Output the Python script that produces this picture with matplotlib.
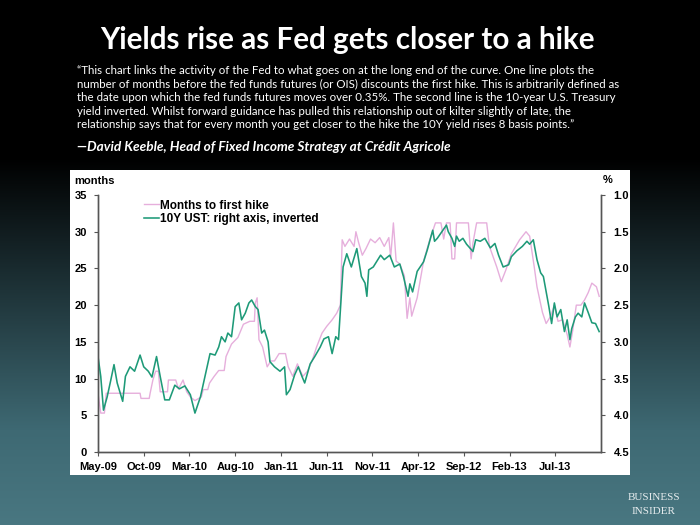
import numpy as np
import matplotlib
matplotlib.use('Agg')
import matplotlib.pyplot as plt
from matplotlib.lines import Line2D

# x = months since May-09
hike_x = [0.0, 0.3, 0.7, 0.9, 4.6, 4.7, 5.6, 5.7, 6.0, 6.3, 6.6, 6.8, 7.6, 7.7, 8.5, 8.8,
          9.3, 9.7, 10.1, 10.6, 11.3, 11.5, 12.0, 12.2, 12.7, 13.2, 13.8, 14.0, 14.6, 15.3,
          15.9, 16.6, 17.1, 17.2, 17.4, 17.6, 18.0, 18.5, 18.9, 19.3, 19.8, 20.5, 20.8, 21.3,
          21.8, 22.4, 22.9, 23.4, 23.9, 24.5, 25.0, 25.6, 26.1, 26.5, 26.7, 27.0, 27.5, 28.0,
          28.2, 28.5, 28.9, 29.3, 29.8, 30.3, 30.8, 31.3, 31.8, 32.0, 32.3, 32.6, 33.0, 33.5,
          33.8, 34.1, 34.3, 34.9, 35.6, 36.3, 36.9, 37.5, 37.8, 38.1, 38.5, 38.7, 39.0, 39.2,
          40.5, 40.8, 41.0, 41.4, 42.5, 42.8, 43.6, 44.1, 44.6, 45.2, 46.1, 46.8, 47.2, 47.7,
          48.0, 48.6, 49.0, 49.5, 49.9, 50.3, 50.8, 51.3, 51.6, 51.9, 52.3, 52.8, 53.2, 53.6,
          54.0, 54.5, 54.8]
hike_months = [8.0, 5.3, 5.3, 8.0, 8.0, 7.3, 7.3, 8.0, 9.8, 11.0, 11.0, 8.2, 8.2, 9.8, 9.8, 8.6,
               9.8, 8.2, 7.5, 7.0, 7.5, 8.5, 8.5, 9.4, 10.3, 11.1, 11.1, 13.0, 14.7, 15.6,
               17.4, 17.8, 17.8, 20.3, 21.0, 15.3, 14.3, 11.6, 12.4, 12.4, 13.4, 13.4, 11.6, 10.3,
               12.0, 10.3, 11.0, 12.4, 14.3, 16.2, 17.1, 18.0, 18.9, 20.0, 28.9, 28.0, 29.0, 28.0,
               30.0, 28.5, 26.8, 27.7, 29.0, 28.5, 29.2, 28.0, 29.2, 26.5, 31.2, 26.0, 25.6, 24.0,
               18.2, 21.0, 18.5, 21.0, 26.0, 29.0, 31.2, 31.2, 29.0, 31.2, 31.2, 26.3, 26.3, 31.2,
               31.2, 26.3, 28.5, 31.2, 31.2, 28.0, 25.2, 23.2, 24.8, 27.0, 28.9, 30.0, 29.4, 25.2,
               22.5, 19.0, 17.5, 18.5, 20.0, 17.8, 18.0, 16.0, 14.3, 16.5, 20.0, 20.0, 20.7, 21.7,
               23.0, 22.5, 21.2]

ust_x = [0.0, 0.3, 0.6, 1.0, 1.4, 1.75, 2.1, 2.7, 3.0, 3.5, 4.0, 4.6, 5.0, 5.5, 5.9, 6.4,
         6.8, 7.3, 7.8, 8.4, 8.9, 9.5, 10.1, 10.6, 11.2, 11.7, 12.25, 12.8, 13.2, 13.5, 13.9,
         14.2, 14.6, 15.0, 15.4, 15.7, 16.1, 16.5, 16.8, 17.2, 17.5, 17.9, 18.2, 18.6, 18.8,
         19.3, 19.9, 20.4, 20.6, 21.0, 21.5, 21.9, 22.3, 22.6, 23.2, 23.7, 24.3, 24.7, 25.2,
         25.6, 26.0, 26.3, 26.5, 26.8, 27.2, 27.7, 28.3, 28.8, 29.2, 29.4, 29.6, 30.1, 30.9,
         31.3, 31.9, 32.4, 33.0, 33.4, 33.9, 34.1, 34.4, 34.9, 35.6, 36.0, 36.6, 36.8, 37.1,
         37.6, 38.1, 38.3, 38.7, 39.0, 39.2, 39.5, 39.9, 40.3, 41.0, 41.3, 41.8, 42.3, 42.9,
         43.4, 43.8, 44.3, 44.9, 45.2, 45.8, 46.4, 46.9, 47.2, 47.6, 48.0, 48.4, 48.7, 49.1,
         49.3, 49.6, 49.9, 50.2, 50.6, 51.0, 51.3, 51.6, 51.8, 52.2, 52.5, 52.9, 53.2, 53.6,
         54.0, 54.4, 54.8]
ust_yield = [3.20, 3.47, 3.93, 3.75, 3.52, 3.31, 3.56, 3.81, 3.47, 3.34, 3.40, 3.18, 3.34, 3.40,
             3.48, 3.20, 3.47, 3.79, 3.79, 3.59, 3.64, 3.60, 3.72, 3.97, 3.75, 3.47, 3.16, 3.18,
             3.07, 2.93, 3.00, 2.88, 2.93, 2.52, 2.47, 2.70, 2.61, 2.47, 2.43, 2.52, 2.56, 2.88,
             2.84, 3.00, 3.27, 3.34, 3.40, 3.34, 3.72, 3.65, 3.45, 3.34, 3.47, 3.56, 3.30, 3.20,
             3.07, 2.96, 2.93, 3.16, 2.93, 2.97, 2.57, 1.98, 1.80, 1.98, 1.73, 2.11, 2.20, 2.38,
             2.02, 1.98, 1.82, 1.88, 1.82, 1.98, 1.94, 2.11, 2.38, 2.21, 2.32, 2.04, 1.91, 1.75,
             1.48, 1.63, 1.59, 1.50, 1.41, 1.50, 1.59, 1.70, 1.56, 1.63, 1.59, 1.67, 1.77, 1.61,
             1.63, 1.59, 1.72, 1.66, 1.82, 1.98, 1.95, 1.84, 1.76, 1.70, 1.63, 1.67, 1.61, 1.88,
             2.06, 2.11, 2.38, 2.52, 2.75, 2.47, 2.66, 2.56, 2.86, 2.70, 2.97, 2.82, 2.66, 2.61,
             2.66, 2.47, 2.60, 2.74, 2.75, 2.86]

tick_pos = [0, 5, 10, 15, 20, 25, 30, 35, 40, 45, 50]
tick_labels = ['May-09', 'Oct-09', 'Mar-10', 'Aug-10', 'Jan-11', 'Jun-11',
               'Nov-11', 'Apr-12', 'Sep-12', 'Feb-13', 'Jul-13']

title = 'Yields rise as Fed gets closer to a hike'
quote = ('\u201cThis chart links the activity of the Fed to what goes on at the long end of the curve. One line plots the\n'
         'number of months before the fed funds futures (or OIS) discounts the first hike. This is arbitrarily defined as\n'
         'the date upon which the fed funds futures moves over 0.35%. The second line is the 10-year U.S. Treasury\n'
         'yield inverted. Whilst forward guidance has pulled this relationship out of kilter slightly of late, the\n'
         'relationship says that for every month you get closer to the hike the 10Y yield rises 8 basis points.\u201d')
source = '\u2014David Keeble, Head of Fixed Income Strategy at Cr\u00e9dit Agricole'

PINK = '#e6afdc'
GREEN = '#1e9a78'
GREY = '#555555'

fig = plt.figure(figsize=(7, 5.25), dpi=100)

# background gradient
bg = fig.add_axes([0, 0, 1, 1], zorder=-10)
rows = np.linspace(0, 1, 525)
stops = [0, 0.3, 0.82, 1]
r = np.interp(rows, stops, [0, 0, 0x3e, 0x49])
g = np.interp(rows, stops, [0, 0, 0x69, 0x77])
b = np.interp(rows, stops, [0, 0, 0x73, 0x81])
img = np.stack([r, g, b], axis=1).reshape(525, 1, 3) / 255
bg.imshow(img, aspect='auto', extent=[0, 1, 0, 1])
bg.axis('off')

# white chart panel
panel = fig.add_axes([70/700, 1-475/525, 560/700, 305/525], zorder=-5)
panel.set_xticks([])
panel.set_yticks([])
for s in panel.spines.values():
    s.set_visible(False)

fig.text(0.497, 1-40/525, title, color='white', fontsize=21.3, fontfamily='Lato',
         fontweight='bold', ha='center', va='center')
fig.text(77/700, 1-65/525, quote, color='white', fontsize=8.3, fontfamily='Lato',
         ha='left', va='top', linespacing=1.28)
fig.text(77/700, 1-147/525, source, color='white', fontsize=9.8, fontfamily='Lato',
         fontstyle='italic', fontweight='bold', ha='left', va='center')

fig.text(654/700, 1-497/525, 'BUSINESS', color='#e6ecee', fontsize=8,
         fontfamily='Liberation Serif', ha='center', va='center')
fig.text(654/700, 1-511/525, 'INSIDER', color='#e6ecee', fontsize=8,
         fontfamily='Liberation Serif', ha='center', va='center')

ax = fig.add_axes([98/700, 1-452/525, 503/700, 257/525])
ax.set_facecolor('none')
ax.plot(hike_x, hike_months, color=PINK, lw=1.0)
ax.set_xlim(0, 55)
ax.set_ylim(0, 35)
ax.set_yticks(range(0, 36, 5))
ax.set_xticks(tick_pos)
ax.set_xticklabels(tick_labels)

ax2 = ax.twinx()
ax2.plot(ust_x, ust_yield, color=GREEN, lw=1.15)
ax2.set_ylim(4.5, 1.0)
ax2.set_yticks(np.arange(1.0, 4.51, 0.5))
ax2.set_yticklabels(['%.1f' % v for v in np.arange(1.0, 4.51, 0.5)])

for a in (ax, ax2):
    a.spines['top'].set_visible(False)
    for side in ('left', 'right', 'bottom'):
        a.spines[side].set_color(GREY)
        a.spines[side].set_linewidth(1.0)
    a.tick_params(colors=GREY, length=3, width=0.8, labelsize=8)
    for lab in a.get_xticklabels() + a.get_yticklabels():
        lab.set_fontweight('bold')
        lab.set_fontfamily('Liberation Sans')
        lab.set_color('black')
ax.tick_params(axis='y', pad=5)
ax.tick_params(axis='x', pad=4)
ax2.tick_params(axis='y', pad=6)

fig.text(95/700, 1-181/525, 'months', fontsize=8, fontweight='bold',
         fontfamily='Liberation Sans', ha='center', va='center')
fig.text(608/700, 1-180/525, '%', fontsize=8, fontweight='bold',
         fontfamily='Liberation Sans', ha='center', va='center')

handles = [Line2D([], [], color=PINK, lw=1.0), Line2D([], [], color=GREEN, lw=1.15)]
leg = ax2.legend(handles, ['Months to first hike', '10Y UST: right axis, inverted'],
                 loc='upper left', bbox_to_anchor=(0.08, 1.005), frameon=False,
                 handlelength=1.3, handletextpad=0.05, labelspacing=0.1,
                 borderpad=0, prop={'family': 'Liberation Sans', 'weight': 'bold', 'size': 8.5})

fig.savefig('out.png', dpi=100)
